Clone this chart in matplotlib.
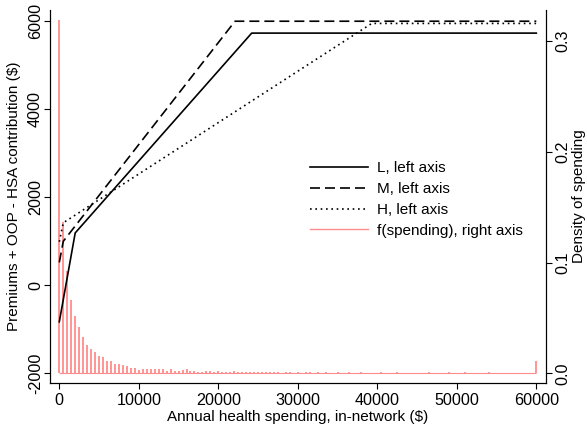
import numpy as np
import matplotlib
matplotlib.use('Agg')
import matplotlib.pyplot as plt
from matplotlib.lines import Line2D

plt.rcParams['font.family'] = ['Liberation Sans', 'DejaVu Sans']
plt.rcParams['font.size'] = 11

# plan cost curves (premiums + OOP - HSA contribution)
L_x = [0, 2000, 24200, 60000]
L_y = [-830, 1190, 5730, 5730]
M_x = [0, 500, 22100, 60000]
M_y = [520, 1000, 6000, 6000]
H_x = [0, 500, 39300, 60000]
H_y = [990, 1420, 5950, 5950]

# density of spending, bins of $500 from 0 to 60000
spend = np.arange(0, 60001, 500)
dens = [0.319, 0.137, 0.092, 0.066, 0.052, 0.0415, 0.033, 0.0256, 0.022, 0.0192,
        0.0156, 0.0147, 0.0111, 0.0108, 0.0084, 0.0084, 0.0072, 0.0066, 0.0048, 0.0048,
        0.003, 0.0042, 0.0042, 0.0039, 0.0039, 0.0036, 0.0036, 0.0021, 0.0036, 0.0018,
        0.0018, 0.003, 0.0039, 0.0021, 0.0021, 0.0012, 0.0009, 0.0021, 0.0021, 0.0012,
        0.0021, 0.0012, 0.0012, 0.0012, 0.0024, 0.0012, 0.0012, 0.0009, 0.0009, 0.0012,
        0.0009, 0.0012, 0.0009, 0.0009, 0.0012, 0.0009, 0.0006, 0.0009, 0.0009, 0.0006,
        0.0009, 0.0006, 0.0009, 0.0012, 0.0006, 0.0009, 0.0006, 0.0009, 0.0006, 0.0006,
        0.0009, 0.0006, 0.0006, 0.0009, 0.0006, 0.0006, 0.0009, 0.0006, 0.0006, 0.0006,
        0.0006, 0.0009, 0.0006, 0.0006, 0.0006, 0.0009, 0.0006, 0.0006, 0.0006, 0.0006,
        0.0006, 0.0006, 0.0006, 0.0012, 0.0006, 0.0006, 0.0006, 0.0006, 0.0009, 0.0006,
        0.0006, 0.0006, 0.0009, 0.0006, 0.0006, 0.0006, 0.0006, 0.0006, 0.0009, 0.0006,
        0.0006, 0.0006, 0.0006, 0.0006, 0.0006, 0.0006, 0.0006, 0.0006, 0.0006, 0.0006,
        0.0114]

x_ticks = [0, 10000, 20000, 30000, 40000, 50000, 60000]
left_ticks = [-2000, 0, 2000, 4000, 6000]
right_ticks = [0.0, 0.1, 0.2, 0.3]
red = '#FF8C8C'

fig = plt.figure(figsize=(5.87, 4.33), dpi=100)
ax = fig.add_axes([50/587, 50/433, 496/587, 373/433])
ax2 = ax.twinx()
ax.set_zorder(2); ax.patch.set_visible(False)

ax2.vlines(spend, 0, dens, color=red, lw=1.3)
ax2.hlines(0, spend[0], spend[-1], color=red, lw=0.8)

ax.plot(L_x, L_y, color='black', lw=1.2, ls='-')
ax.plot(M_x, M_y, color='black', lw=1.2, ls=(0, (6, 3)))
ax.plot(H_x, H_y, color='black', lw=1.2, ls=(0, (1, 2.2)))

ax.set_xlim(-1170, 61220)
ax.set_ylim(-2220, 6255)
ax2.set_ylim(-0.00876, 0.3282)

ax.set_xticks(x_ticks)
ax.set_xticklabels([str(t) for t in x_ticks], fontsize=11.6)
ax.set_yticks(left_ticks)
ax.set_yticklabels([str(t) for t in left_ticks], rotation=90, va='center', fontsize=11.6)
ax2.set_yticks(right_ticks)
ax2.set_yticklabels(['%.1f' % t for t in right_ticks], rotation=90, va='center', fontsize=11.6)

for a in (ax, ax2):
    a.spines['top'].set_visible(False)
    for s in a.spines.values():
        s.set_linewidth(0.8)
    a.tick_params(direction='out', length=4, width=0.8, pad=3)
ax.tick_params(axis='y', pad=1)

ax.set_xlabel('Annual health spending, in-network ($)', labelpad=2)
ax.set_ylabel('Premiums + OOP - HSA contribution ($)', labelpad=5)
ax2.set_ylabel('Density of spending', labelpad=1)

handles = [Line2D([], [], color='black', lw=1.2, ls='-'),
           Line2D([], [], color='black', lw=1.2, ls=(0, (6, 3))),
           Line2D([], [], color='black', lw=1.2, ls=(0, (1, 2.2))),
           Line2D([], [], color=red, lw=1.0)]
labels = ['L, left axis', 'M, left axis', 'H, left axis', 'f(spending), right axis']
ax.legend(handles, labels, frameon=False, loc='upper left',
          bbox_to_anchor=((314 - 50) / 496 - 0.02, (433 - 155 - 50) / 373),
          handlelength=3.8, handletextpad=0.6, labelspacing=0.45, borderaxespad=0)

fig.savefig('out.png', dpi=100)
